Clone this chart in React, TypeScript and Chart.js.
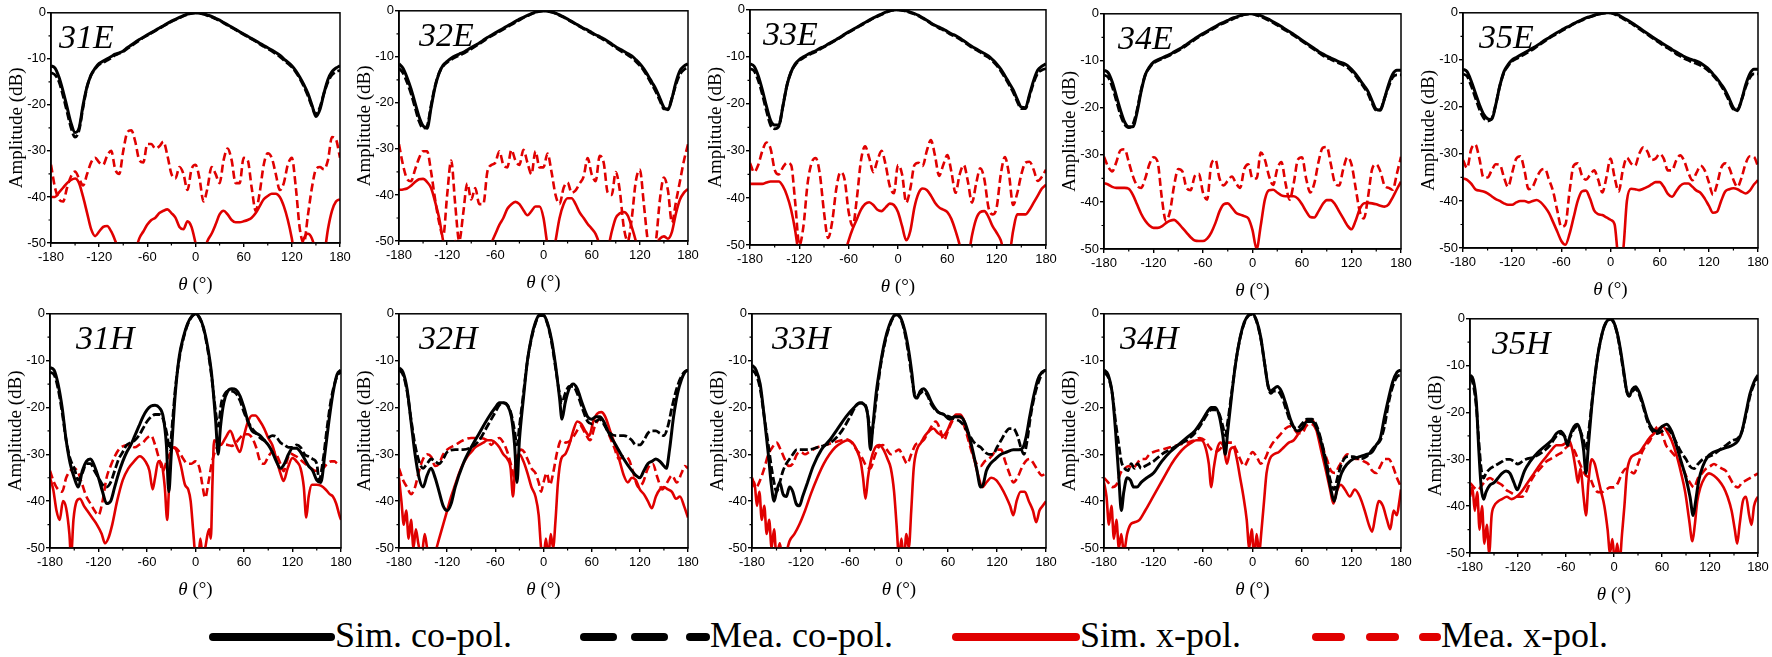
import React, { useEffect, useRef } from "react";
import { Chart, registerables } from "chart.js";

Chart.register(...registerables);

type Pt = [number, number];

// ---------------- data ----------------
const THETA_E: number[] = [
  -180, -175, -170, -165, -160, -155, -150, -145, -140, -135, -130, -125,
  -120, -115, -110, -105, -100, -95, -90, -85, -80, -75, -70, -65,
  -60, -55, -50, -45, -40, -35, -30, -25, -20, -15, -10, -5,
  0, 5, 10, 15, 20, 25, 30, 35, 40, 45, 50, 55,
  60, 65, 70, 75, 80, 85, 90, 95, 100, 105, 110, 115,
  120, 125, 130, 135, 140, 145, 150, 155, 160, 165, 170, 175, 180,
];
const X_TICKS = [-180, -120, -60, 0, 60, 120, 180];
const Y_TICKS = [0, -10, -20, -30, -40, -50];
const X_MINOR = [-150, -90, -30, 30, 90, 150];
const Y_MINOR = [-5, -15, -25, -35, -45];
const LEGEND_LABELS = ["Sim. co-pol.", "Mea. co-pol.", "Sim. x-pol.", "Mea. x-pol."];
const PANEL_NAMES = ["31E", "32E", "33E", "34E", "35E", "31H", "32H", "33H", "34H", "35H"];

// ---- 31E ----
const SIM_CO_31E = [
  -11.5, -12, -14, -17, -20.5, -24, -26, -25, -20, -16, -13.5, -12,
  -11, -10.5, -10, -9.5, -9, -8.7, -8.3, -7.6, -7, -6.4, -5.8, -5.3,
  -4.8, -4.3, -3.8, -3.3, -2.8, -2.3, -1.8, -1.4, -1, -0.6, -0.3, -0.1,
  0, -0.1, -0.2, -0.5, -0.8, -1.2, -1.6, -2.1, -2.6, -3.1, -3.6, -4.1,
  -4.6, -5.1, -5.6, -6.1, -6.6, -7.1, -7.6, -8.1, -8.6, -9.2, -10, -10.7,
  -11.5, -12.6, -14, -15.6, -17.5, -20, -22.5, -21, -17.5, -14.5, -12.8, -12, -11.5,
];
const MEA_CO_31E = [
  -13, -13.5, -15, -18, -21.5, -25, -27, -25.5, -20.5, -16, -13.5, -12.2,
  -11.2, -10.8, -10.3, -9.8, -9.2, -8.8, -8.4, -7.8, -7.2, -6.6, -6, -5.4,
  -4.9, -4.4, -3.9, -3.4, -2.9, -2.4, -1.9, -1.5, -1.1, -0.7, -0.35, -0.1,
  0, -0.1, -0.3, -0.6, -0.9, -1.3, -1.7, -2.2, -2.7, -3.2, -3.7, -4.2,
  -4.7, -5.2, -5.7, -6.2, -6.8, -7.3, -7.8, -8.3, -8.9, -9.5, -10.3, -11,
  -11.8, -12.9, -14.3, -16, -18, -20.3, -22, -20.5, -17.5, -15, -13.5, -12.8, -12.5,
];
const SIM_X_31E = [
  -40, -40, -39, -38, -37, -36.3, -36, -37, -40, -43.5, -47, -48.5,
  -47.5, -46.5, -46.3, -47.5, -49.5, -52, -55, -57, -56, -52, -49, -47.5,
  -46, -45, -44.5, -43.5, -43, -42.7, -43.5, -44.5, -46.5, -47, -45.3, -46.5,
  -50, -54, -52, -49.5, -48, -46, -43.8, -43, -43.8, -45, -45.5, -45.5,
  -45.3, -45, -44.5, -43.5, -42, -40.5, -39.8, -39.3, -39.3, -40, -42, -45,
  -49, -54, -52, -49, -48, -49, -52, -56, -53, -47, -43, -41, -40.5,
];
const MEA_X_31E = [
  -33, -38, -40.5, -41, -38, -35.5, -34.5, -36, -37.5, -35, -32.5, -31.5,
  -32.5, -33, -31, -30, -34, -35, -30, -26, -25.5, -28, -32, -32.5,
  -28.5, -28.5, -29.5, -29, -28, -31, -35, -36, -33.5, -35, -38.5, -34,
  -33, -36, -41, -38, -33.5, -35, -37, -32, -29.5, -32, -37, -37,
  -31.5, -32, -38, -43, -39, -33, -30.5, -31.5, -35, -38.5, -37, -33,
  -31.5, -38, -47, -50, -44, -38, -34, -33.5, -34, -32, -27, -27.5, -31.5,
];

// ---- 32E ----
const SIM_CO_32E = [
  -11.5, -12.5, -14.5, -17, -20, -23, -25, -25.5, -21, -16.5, -13.5, -11.8,
  -11, -10.3, -9.8, -9.4, -9, -8.5, -8, -7.5, -7, -6.4, -5.8, -5.3,
  -4.8, -4.3, -3.8, -3.3, -2.8, -2.3, -1.8, -1.4, -1, -0.6, -0.3, -0.1,
  0, -0.1, -0.2, -0.5, -0.9, -1.3, -1.8, -2.3, -2.8, -3.3, -3.8, -4.2,
  -4.7, -5.2, -5.6, -6.1, -6.6, -7.2, -7.8, -8.3, -8.8, -9.3, -9.8, -10.6,
  -11.5, -12.6, -14, -15.5, -17, -19, -21, -21.5, -19, -15.5, -13, -12, -11.5,
];
const MEA_CO_32E = [
  -12.5, -13.5, -15.5, -18, -21, -24, -25.5, -25, -20.5, -16.3, -13.5, -12,
  -11.2, -10.6, -10.1, -9.7, -9.3, -8.8, -8.3, -7.7, -7.2, -6.6, -6, -5.5,
  -5, -4.5, -4, -3.5, -3, -2.5, -2, -1.5, -1.1, -0.7, -0.35, -0.1,
  0, -0.1, -0.3, -0.6, -1, -1.4, -1.9, -2.4, -2.9, -3.4, -3.9, -4.4,
  -4.9, -5.4, -5.8, -6.3, -6.8, -7.4, -8, -8.6, -9.1, -9.6, -10.2, -11,
  -11.9, -13, -14.4, -16, -17.6, -19.5, -21.3, -21.3, -19, -16, -13.8, -12.8, -12.3,
];
const SIM_X_32E = [
  -38.9, -38.8, -38.6, -38, -37.2, -36.6, -36.5, -37.2, -38.5, -41.5, -45, -50,
  -54, -53, -50, -52, -56, -58, -58, -57, -56, -55, -53, -50.5,
  -48.5, -46.5, -45, -43, -42, -41.5, -42, -43.3, -44.4, -43.5, -42.5, -42.5,
  -45, -51, -55, -50, -45, -42, -40.7, -40.7, -42, -43.8, -45, -46.3,
  -47.3, -48.5, -51, -55, -52, -48, -45, -44, -43.7, -44.5, -47, -50,
  -54, -56, -56, -54, -51, -49.5, -49, -49.5, -48, -44, -41, -39.5, -38.7,
];
const MEA_X_32E = [
  -29, -33.5, -36.5, -37, -34.5, -32, -30.5, -30.5, -35, -41, -46, -49,
  -40, -32.5, -42, -50, -44, -37.5, -41, -38.5, -42, -42, -35, -33.5,
  -33, -30.5, -33.5, -34, -30.2, -32.5, -33.5, -30.2, -33, -35.5, -30.5, -34,
  -34, -31, -35, -40, -42, -38.5, -37.3, -39.5, -39, -37.5, -36, -32,
  -35.5, -37, -31.5, -33, -39.5, -40, -35, -39, -47, -50, -45, -37,
  -34.5, -42, -50, -52, -50, -41, -36.2, -39, -46, -41.5, -37, -32.5, -29,
];

// ---- 33E ----
const SIM_CO_33E = [
  -11.5, -12, -14, -17, -20.5, -23.5, -24.5, -24.5, -20.5, -16, -13.2, -11.5,
  -10.6, -10, -9.5, -9.1, -8.7, -8.2, -7.8, -7.3, -6.8, -6.3, -5.8, -5.2,
  -4.7, -4.2, -3.7, -3.2, -2.7, -2.2, -1.7, -1.3, -0.9, -0.5, -0.2, -0.05,
  0, -0.1, -0.2, -0.5, -0.8, -1.2, -1.7, -2.2, -2.8, -3.3, -3.7, -4.1,
  -4.6, -5.1, -5.5, -6, -6.6, -7.2, -7.8, -8.3, -8.8, -9.3, -9.8, -10.6,
  -11.5, -12.6, -14, -15.5, -17, -19, -20.7, -20.8, -18, -15, -12.8, -12, -11.5,
];
const MEA_CO_33E = [
  -12.5, -13, -15, -18, -21.5, -24.5, -25.3, -24.8, -20.5, -16, -13.2, -11.7,
  -10.8, -10.2, -9.7, -9.3, -8.9, -8.4, -7.9, -7.4, -6.9, -6.4, -5.9, -5.3,
  -4.8, -4.3, -3.8, -3.3, -2.8, -2.3, -1.8, -1.4, -1, -0.6, -0.25, -0.05,
  0, -0.1, -0.3, -0.6, -0.9, -1.3, -1.8, -2.3, -2.9, -3.4, -3.9, -4.3,
  -4.8, -5.3, -5.7, -6.2, -6.8, -7.4, -8, -8.5, -9, -9.6, -10.1, -10.9,
  -11.8, -13, -14.4, -15.9, -17.5, -19.5, -21, -21, -18.3, -15.5, -13.5, -12.8, -12.5,
];
const SIM_X_33E = [
  -37, -37, -37, -37, -36.7, -36.5, -36.5, -36.5, -37.5, -39.5, -42.5, -47,
  -53, -57, -60, -62, -63, -63, -62, -61, -60, -58, -56, -52,
  -49, -46.5, -44.5, -42.5, -41.3, -40.9, -41.5, -42.5, -42.8, -42, -41.2, -41.5,
  -43, -46, -49, -47, -42, -39, -38, -38.3, -39.5, -41, -42, -42.5,
  -43, -44.5, -47, -50, -54, -53, -48, -44.5, -43, -42.8, -44, -46,
  -47.4, -49, -52, -52, -47, -43.5, -43.5, -43.5, -42.5, -41, -39.5, -38, -37.2,
];
const MEA_X_33E = [
  -32.6, -34.5, -33, -30, -28.2, -29.5, -34, -35, -33.5, -32.5, -33, -41,
  -50, -46, -37, -32.5, -31.5, -35, -43, -48.5, -45, -38, -34.5, -36,
  -43, -46, -40, -32, -29, -31.5, -34.5, -32, -30, -33, -37.5, -39,
  -33, -35, -41, -38, -33, -32.5, -33.2, -30, -27.7, -31, -35.3, -33,
  -30.9, -34.5, -38.9, -35, -33, -36.5, -41, -37, -33.7, -36, -42, -43.5,
  -42, -35, -31.3, -35, -41.5, -39, -35, -32.5, -32.3, -34, -36.4, -35.5, -34,
];

// ---- 34E ----
const SIM_CO_34E = [
  -12, -12.5, -14.5, -17.5, -20.5, -23, -24, -24, -21, -16.5, -13, -11.3,
  -10.3, -9.8, -9.4, -9, -8.6, -8.1, -7.6, -7.1, -6.5, -5.9, -5.3, -4.7,
  -4.2, -3.7, -3.2, -2.7, -2.2, -1.8, -1.4, -1, -0.7, -0.4, -0.1, 0,
  0, -0.2, -0.4, -0.8, -1.2, -1.7, -2.2, -2.7, -3.3, -3.8, -4.4, -5,
  -5.6, -6.2, -6.8, -7.4, -8, -8.5, -9, -9.4, -9.8, -10.2, -10.5, -11,
  -11.8, -12.8, -14, -15.2, -16.5, -18.5, -20.3, -20.5, -18, -15, -12.8, -12, -12,
];
const MEA_CO_34E = [
  -13, -13.5, -15.5, -18.5, -21.5, -23.5, -24.2, -23.5, -20.5, -16.2, -13, -11.5,
  -10.5, -10, -9.6, -9.2, -8.8, -8.3, -7.8, -7.3, -6.7, -6.1, -5.5, -4.9,
  -4.4, -3.9, -3.4, -2.9, -2.4, -2, -1.6, -1.2, -0.8, -0.5, -0.2, -0.05,
  0, -0.3, -0.6, -1, -1.4, -1.9, -2.4, -3, -3.5, -4, -4.6, -5.2,
  -5.8, -6.4, -7, -7.6, -8.2, -8.8, -9.3, -9.7, -10.1, -10.5, -10.9, -11.4,
  -12.2, -13.2, -14.4, -15.6, -17, -19, -20.5, -20.3, -18, -15.5, -13.5, -13, -13,
];
const SIM_X_34E = [
  -36, -36.3, -36.8, -37, -37, -37, -37.2, -38.5, -40.5, -42.5, -44, -45,
  -45.5, -45.5, -45.2, -44.5, -44, -43.8, -44.5, -45.5, -46.5, -47.5, -48.2, -48.3,
  -48.3, -47.8, -46.5, -44.5, -42, -40.5, -40.3, -41.2, -42.3, -42.7, -43, -43.5,
  -46, -50, -45, -39.5, -37.5, -37.4, -38, -38.6, -38.8, -38.8, -38.8, -39.3,
  -40.5, -42, -43.2, -43.3, -42, -40.5, -39.6, -39.6, -40.5, -42, -43.5, -45,
  -45.8, -44, -41.5, -40.3, -40.2, -40.3, -40.5, -40.8, -41, -40.5, -39, -37.3, -35.7,
];
const MEA_X_34E = [
  -30.4, -32.5, -33.5, -31.5, -29, -28.8, -31.5, -34.5, -36.5, -37, -35, -32,
  -30.5, -31.5, -39, -44, -42, -36.5, -33, -33.5, -37, -37.5, -34.5, -34,
  -38, -39.5, -32, -31, -35, -36.5, -35.5, -34.6, -36, -37, -33, -32,
  -35, -35, -29.5, -31, -34.5, -36.4, -33, -31.5, -36, -39.5, -36, -31,
  -30.5, -35, -38, -36, -31.5, -28.5, -28.3, -32, -36, -36.5, -33, -30.5,
  -32, -37, -42, -43.5, -39, -33, -32, -33.5, -36.5, -37, -37.4, -34, -30.4,
];

// ---- 35E ----
const SIM_CO_35E = [
  -12, -12.5, -14.5, -17, -19.5, -21.5, -22.5, -22.7, -19.5, -15.5, -12.5, -11,
  -10, -9.5, -9, -8.5, -8, -7.5, -7, -6.4, -5.8, -5.3, -4.7, -4.2,
  -3.7, -3.2, -2.8, -2.3, -1.9, -1.5, -1.1, -0.8, -0.5, -0.3, -0.1, 0,
  0, -0.2, -0.5, -1, -1.5, -2, -2.6, -3.2, -3.8, -4.4, -5, -5.6,
  -6.1, -6.7, -7.2, -7.8, -8.3, -8.8, -9.3, -9.7, -10, -10.3, -10.7, -11.3,
  -12, -13, -14, -15.2, -16.5, -18.3, -20.2, -20.8, -18.5, -15.3, -13, -12, -12,
];
const MEA_CO_35E = [
  -13, -13.5, -15.5, -18, -20.5, -22.3, -23, -22.5, -19.5, -15.5, -12.7, -11.3,
  -10.3, -9.8, -9.3, -8.8, -8.3, -7.8, -7.2, -6.6, -6, -5.4, -4.9, -4.4,
  -3.9, -3.4, -2.9, -2.4, -2, -1.6, -1.2, -0.9, -0.6, -0.3, -0.1, 0,
  0, -0.3, -0.7, -1.2, -1.7, -2.2, -2.8, -3.4, -4, -4.6, -5.2, -5.8,
  -6.4, -7, -7.5, -8.1, -8.7, -9.2, -9.7, -10.1, -10.5, -10.8, -11.2, -11.7,
  -12.4, -13.3, -14.3, -15.5, -17, -18.8, -20.5, -20.5, -18.5, -15.8, -13.8, -13, -13,
];
const SIM_X_35E = [
  -35.2, -35.5, -36.3, -37.5, -37.8, -38, -38.4, -39, -39.6, -40, -40.5, -40.8,
  -40.8, -40.3, -40, -40, -40.3, -40, -39.8, -40.3, -41.3, -42.6, -44.5, -46.5,
  -48.5, -49.3, -47, -43.5, -40, -38, -37.8, -39.5, -42, -42.8, -43, -43.5,
  -44, -45, -52, -51, -40, -37.4, -37.5, -37.7, -37.4, -37, -36.5, -36,
  -36, -37, -38.5, -39.1, -38, -36.8, -36.3, -36.3, -37, -37.8, -38.3, -39.5,
  -41, -42.5, -42.3, -40, -38, -37.5, -37.3, -37.5, -38, -38.4, -37.8, -36.5, -35.6,
];
const MEA_X_35E = [
  -31.3, -33, -29, -28, -31, -35, -35, -33.5, -32.2, -32.3, -35, -37,
  -34, -31, -30.5, -33.5, -37.5, -37, -35, -33.5, -33.2, -35.5, -38, -42,
  -45.5, -45, -38, -32.5, -32, -34.5, -35.5, -34.5, -33.5, -35.5, -38.2, -35,
  -31, -35, -38, -33.5, -30.8, -32, -32.5, -30, -28.6, -29.5, -31.3, -31,
  -30, -31, -33.5, -33.5, -31.5, -30.3, -31.5, -34, -35.6, -34, -32.5, -33.5,
  -36, -38.7, -36.5, -33, -32, -33, -35.5, -37, -35, -32, -30.5, -30.6, -32.7,
];

// ---- 31H ----  [theta, dB]
const SIM_CO_31H: Pt[] = [
  [-180, -11.5], [-175, -12], [-170, -15], [-165, -20], [-160, -27], [-155, -32], [-150, -35], [-145, -37],
  [-140, -33.5], [-135, -31.5], [-130, -31], [-125, -32.5], [-120, -35], [-115, -38], [-110, -40.5], [-105, -40],
  [-100, -37], [-95, -34], [-90, -31.5], [-85, -29.5], [-80, -28], [-75, -26], [-70, -24], [-65, -22],
  [-60, -20.5], [-55, -19.7], [-50, -19.5], [-45, -20], [-40, -22], [-36, -28], [-33, -38], [-30, -30],
  [-25, -17], [-20, -9], [-15, -5], [-10, -2.2], [-5, -0.6], [0, 0], [5, -0.8], [10, -3],
  [15, -7], [20, -13], [25, -23], [28, -30], [31, -24], [35, -19], [40, -16.5], [45, -16],
  [50, -16.2], [55, -17.5], [60, -20], [65, -23], [70, -25], [75, -25.5], [80, -26], [85, -27],
  [90, -28], [95, -29.5], [100, -31.5], [105, -33], [110, -32], [115, -30], [120, -28.7], [125, -28.7],
  [130, -29.5], [135, -31], [140, -32.5], [145, -33.5], [150, -35.5], [155, -36], [160, -30], [165, -23],
  [170, -17], [175, -13], [180, -12],
];
const MEA_CO_31H: Pt[] = [
  [-180, -12.5], [-175, -13], [-170, -16], [-165, -21], [-160, -27], [-155, -31], [-150, -33], [-145, -35.5],
  [-140, -34], [-135, -32], [-130, -32], [-125, -33.5], [-120, -35], [-115, -36.5], [-110, -37], [-105, -36],
  [-100, -33.5], [-95, -31], [-90, -29.5], [-85, -28], [-80, -27.5], [-75, -27], [-70, -26], [-65, -24.5],
  [-60, -23], [-55, -22], [-50, -21.5], [-45, -21.5], [-40, -22.5], [-35, -26], [-32, -29], [-28, -22],
  [-25, -16], [-20, -9.5], [-15, -5.3], [-10, -2.4], [-5, -0.7], [0, -0.1], [5, -0.9], [10, -3.2],
  [15, -7.5], [20, -13.5], [25, -21], [28, -24], [32, -19], [35, -17.5], [40, -16.5], [45, -16.5],
  [50, -17], [55, -18.5], [60, -21], [65, -23], [70, -24.5], [75, -25.5], [80, -26.5], [85, -27],
  [90, -26.5], [95, -26], [100, -26.3], [105, -27.5], [110, -28], [115, -28.5], [120, -28.5], [125, -28],
  [130, -28.5], [135, -30], [140, -30.5], [145, -31], [150, -32], [153, -35.5], [158, -31], [163, -24],
  [168, -18], [172, -15], [176, -13], [180, -12.5],
];
const SIM_X_31H: Pt[] = [
  [-180, -35], [-176, -37.5], [-172, -42], [-168, -44], [-164, -40], [-160, -41.5], [-156, -47], [-154, -52],
  [-151, -44], [-147, -40], [-143, -39.5], [-138, -41], [-134, -42], [-128, -43.5], [-122, -45], [-116, -47],
  [-112, -49], [-108, -48], [-103, -45], [-97, -40], [-90, -35.5], [-83, -33], [-76, -31.5], [-69, -30.4],
  [-62, -31.5], [-57, -33.5], [-53, -37.5], [-50, -35], [-46, -31.5], [-42, -32], [-38, -37], [-35, -44],
  [-33, -38], [-30, -29], [-26, -28.5], [-22, -30], [-18, -32.5], [-13, -36.5], [-9, -37.5], [-6, -40],
  [-3, -46], [0, -52], [3, -53], [6, -48], [9, -52], [12, -50], [15, -47], [17, -46],
  [19, -48], [21, -36], [23, -27], [27, -27.5], [31, -28], [37, -26.5], [43, -25], [49, -27.5],
  [55, -29.5], [60, -26], [65, -23], [70, -21.7], [74, -21.7], [80, -23], [85, -24.5], [90, -26.5],
  [95, -28], [100, -31], [105, -34], [109, -35.7], [114, -33], [120, -30.8], [125, -31.5], [130, -33],
  [134, -37], [137, -43.5], [140, -39], [144, -36.5], [150, -36.5], [155, -36.7], [161, -37.5], [166, -38.5],
  [170, -39], [174, -40.5], [178, -43], [180, -44],
];
const MEA_X_31H: Pt[] = [
  [-180, -33.5], [-175, -36], [-170, -37.5], [-165, -38], [-160, -35], [-155, -33.5], [-150, -33], [-145, -34],
  [-140, -36.5], [-135, -39], [-130, -40.5], [-125, -42], [-120, -43], [-115, -40], [-110, -35], [-105, -32.5],
  [-100, -30.5], [-95, -29], [-90, -28.3], [-85, -28], [-80, -28.2], [-75, -28.5], [-70, -28], [-65, -27.5],
  [-60, -26.5], [-55, -26], [-50, -28], [-45, -31], [-40, -33.5], [-35, -31], [-30, -29.5], [-25, -28.6],
  [-20, -29.5], [-15, -31], [-10, -32], [-5, -32], [0, -31.5], [5, -33], [8, -36], [12, -39.3],
  [16, -36], [20, -32], [25, -29], [30, -28], [35, -27.9], [40, -28], [45, -28.2], [50, -27.5],
  [55, -26.5], [60, -25.7], [65, -25.7], [70, -26.5], [75, -28.5], [80, -31.5], [85, -32], [90, -30.5],
  [95, -29.5], [100, -30], [105, -32], [109, -33.6], [113, -31.5], [117, -29.8], [122, -30.2], [127, -30.7],
  [132, -31.5], [138, -32.3], [143, -33], [148, -33.5], [153, -33.5], [158, -33], [163, -32], [168, -31.5],
  [172, -31.5], [176, -32], [180, -32],
];

// ---- 32H ----
const SIM_CO_32H: Pt[] = [
  [-180, -11.5], [-175, -12.5], [-170, -16], [-165, -23], [-160, -30], [-155, -35], [-150, -37], [-145, -34.5],
  [-140, -33], [-135, -35], [-130, -38], [-125, -41], [-120, -42], [-115, -40.5], [-110, -37], [-100, -32],
  [-90, -28.5], [-80, -25.5], [-70, -22.5], [-60, -20], [-55, -19], [-50, -19], [-45, -19.5], [-40, -22],
  [-36, -28], [-33, -36], [-30, -27], [-25, -18], [-20, -10], [-15, -5], [-10, -1.8], [-5, -0.2],
  [0, -0.3], [5, -2], [10, -5.5], [15, -11], [20, -18], [23, -22.5], [27, -19], [32, -16],
  [37, -15], [42, -16], [48, -19], [55, -22], [60, -22.5], [65, -22], [70, -22], [75, -23],
  [80, -25], [90, -28], [100, -31], [110, -33.5], [115, -34.5], [120, -35], [125, -33.5], [130, -32],
  [135, -31.5], [140, -31], [145, -31.5], [150, -32.5], [153, -33], [157, -29], [162, -22], [167, -17],
  [172, -14], [176, -12.5], [180, -12],
];
const MEA_CO_32H: Pt[] = [
  [-180, -12], [-175, -13], [-170, -16.5], [-165, -22.5], [-160, -28], [-155, -31.5], [-150, -33], [-145, -32],
  [-140, -31], [-135, -31.5], [-130, -32], [-125, -31], [-120, -29.5], [-110, -29], [-100, -29], [-90, -28.5],
  [-80, -27], [-70, -24], [-60, -21], [-55, -19.5], [-50, -19], [-45, -19.5], [-40, -21.5], [-36, -25],
  [-33, -28], [-30, -24], [-25, -17], [-20, -10], [-15, -5.3], [-10, -2], [-5, -0.4], [0, -0.4],
  [5, -2.2], [10, -6], [15, -11.5], [20, -17], [23, -19], [27, -17], [32, -15.5], [37, -15.5],
  [42, -17], [48, -20], [55, -23], [60, -23.5], [65, -23], [70, -22.5], [75, -23.5], [80, -25],
  [90, -26], [100, -26], [110, -27], [115, -28], [120, -28], [125, -27], [130, -25.5], [135, -25],
  [140, -25], [145, -25.5], [150, -26], [155, -24], [160, -20], [165, -16.5], [170, -14], [175, -12.5],
  [180, -12],
];
const SIM_X_32H: Pt[] = [
  [-180, -35], [-177, -40], [-174, -45], [-171, -42], [-168, -48], [-165, -44], [-162, -50], [-159, -46],
  [-156, -49], [-152, -52], [-148, -47], [-145, -50], [-140, -53], [-135, -51], [-130, -48], [-125, -45],
  [-120, -42], [-115, -39], [-110, -36.5], [-105, -34], [-100, -32], [-95, -30.5], [-90, -29.5], [-85, -28.5],
  [-80, -28], [-75, -27.5], [-70, -27], [-65, -27], [-60, -27.5], [-55, -28.5], [-50, -30], [-45, -31],
  [-41, -33], [-38, -39], [-35, -32], [-30, -30], [-25, -31.5], [-20, -34], [-15, -37], [-10, -39],
  [-6, -43], [-3, -50], [0, -52], [3, -48], [6, -52], [9, -47], [12, -50], [15, -44],
  [18, -36], [22, -31], [27, -30], [32, -28], [37, -25], [42, -23], [47, -23.5], [52, -25],
  [57, -26], [62, -23], [67, -21.3], [72, -21], [77, -22], [83, -25], [90, -28.5], [95, -31.5],
  [100, -34.5], [105, -36], [110, -35], [115, -35.5], [120, -37.5], [125, -38.5], [130, -40], [135, -41.5],
  [140, -39], [145, -37.5], [150, -37], [155, -37.5], [160, -38], [165, -39.5], [170, -39], [175, -41],
  [180, -43.5],
];
const MEA_X_32H: Pt[] = [
  [-180, -33], [-175, -35.5], [-170, -37], [-165, -38.5], [-160, -37], [-155, -33.5], [-150, -31], [-145, -30],
  [-140, -30.5], [-135, -32.5], [-130, -32], [-125, -30], [-120, -29], [-110, -28], [-100, -27], [-90, -26.5],
  [-80, -26.5], [-70, -27], [-65, -28], [-60, -27], [-55, -26.5], [-50, -27.5], [-45, -29.5], [-40, -32.5],
  [-36, -35], [-33, -31], [-28, -29], [-24, -29.5], [-20, -31], [-15, -33], [-10, -34], [-6, -36],
  [-3, -38], [0, -36], [4, -34], [8, -36.5], [12, -34], [17, -29.5], [22, -27], [28, -27.5],
  [34, -27], [40, -25.5], [46, -24], [52, -25.5], [58, -27], [64, -24], [70, -22.5], [76, -23.5],
  [82, -26], [88, -28.5], [94, -31], [100, -30.5], [106, -31], [112, -34], [118, -37], [124, -36],
  [130, -33], [136, -32], [142, -35], [148, -37.5], [154, -36], [160, -34.5], [166, -36], [172, -34],
  [176, -32.5], [180, -33],
];

// ---- 33H ----
const SIM_CO_33H: Pt[] = [
  [-180, -11], [-175, -12], [-170, -15], [-165, -22], [-160, -30], [-156, -37], [-153, -40], [-150, -38],
  [-146, -36], [-142, -38.5], [-138, -39], [-134, -37], [-130, -38], [-126, -40.5], [-122, -41], [-118, -39],
  [-112, -36], [-105, -32.5], [-95, -29], [-85, -27], [-75, -24.5], [-65, -22], [-55, -20], [-48, -19],
  [-42, -19.5], [-38, -22], [-35, -29], [-32, -24], [-28, -17], [-22, -10], [-17, -5.5], [-12, -2.5],
  [-7, -0.6], [-3, 0], [2, -0.8], [7, -3.5], [12, -8], [16, -13], [19, -17.5], [22, -18],
  [26, -16.5], [30, -16], [35, -17], [40, -19], [48, -21], [55, -21.5], [62, -22.5], [68, -22],
  [75, -22], [80, -23], [85, -25.5], [90, -29], [95, -33], [100, -37], [103, -36.5], [107, -33.5],
  [112, -32], [118, -31], [125, -30], [132, -29.5], [140, -29], [147, -29], [152, -28.5], [156, -26],
  [160, -22], [165, -17.5], [170, -14], [175, -12.5], [180, -12],
];
const MEA_CO_33H: Pt[] = [
  [-180, -12], [-175, -13], [-170, -16], [-165, -22], [-160, -28], [-156, -33], [-153, -36], [-150, -38],
  [-146, -36], [-142, -33.5], [-138, -32], [-134, -31], [-130, -30], [-125, -29], [-120, -29], [-115, -29],
  [-110, -29], [-100, -28.5], [-90, -28], [-80, -27], [-70, -25], [-60, -22], [-52, -19.5], [-46, -19],
  [-40, -20], [-37, -23], [-34, -26], [-31, -23], [-27, -17], [-22, -10.5], [-17, -6], [-12, -2.8],
  [-7, -0.8], [-3, -0.2], [2, -1], [7, -4], [12, -9], [16, -14], [19, -17], [22, -17.5],
  [26, -17], [30, -16.5], [35, -17.5], [40, -19.5], [48, -21], [55, -21.5], [62, -22], [68, -22.5],
  [75, -23], [80, -24], [85, -25.5], [90, -27], [95, -28], [100, -28.5], [105, -29.5], [110, -30],
  [115, -30], [120, -28.5], [125, -27], [130, -25.5], [135, -24.5], [140, -24.5], [145, -26], [150, -29],
  [153, -30], [157, -27], [161, -22], [166, -17.5], [171, -14.5], [176, -12.5], [180, -12],
];
const SIM_X_33H: Pt[] = [
  [-180, -37], [-177, -36], [-174, -41], [-171, -38], [-168, -44], [-165, -41], [-162, -47], [-159, -44],
  [-156, -50], [-153, -46], [-150, -52], [-146, -49], [-142, -53], [-138, -51], [-134, -48.5], [-128, -47],
  [-122, -45], [-115, -42], [-108, -38.5], [-100, -35], [-92, -32], [-85, -30], [-78, -28.5], [-70, -27.5],
  [-63, -27], [-57, -27.5], [-52, -29], [-47, -31.5], [-44, -35], [-41, -39.5], [-38, -35], [-34, -31],
  [-29, -28.5], [-24, -28], [-19, -29], [-14, -31], [-10, -33], [-6, -38], [-3, -45], [0, -52],
  [3, -48], [6, -53], [9, -47], [12, -50], [15, -42], [18, -33], [22, -29], [27, -27.5],
  [32, -26], [37, -25], [42, -24.5], [48, -25.5], [54, -26], [59, -25], [64, -23], [70, -21.5],
  [75, -21.5], [80, -23], [86, -27], [92, -31], [97, -34.5], [102, -37], [107, -36], [113, -35],
  [119, -35.5], [125, -37], [131, -39], [136, -41], [140, -43], [144, -40], [149, -38], [154, -38],
  [159, -40], [164, -42], [168, -44.5], [172, -42], [176, -41], [180, -40],
];
const MEA_X_33H: Pt[] = [
  [-180, -35], [-175, -37], [-170, -35.5], [-165, -33], [-160, -30], [-155, -28.5], [-150, -27.5], [-145, -29],
  [-140, -31], [-135, -32.5], [-130, -32], [-125, -30], [-120, -29.5], [-115, -30], [-110, -29.5], [-100, -28.5],
  [-90, -28], [-80, -27.5], [-70, -27], [-64, -26.8], [-58, -27.5], [-52, -29], [-46, -30.5], [-40, -32.5],
  [-35, -33], [-30, -30.5], [-25, -28.5], [-20, -28], [-15, -29], [-10, -30], [-5, -29.5], [0, -29],
  [5, -30.5], [10, -32], [15, -30], [20, -28], [25, -27.5], [30, -27], [35, -25.5], [40, -24],
  [45, -23], [50, -24.5], [55, -27], [60, -25], [65, -23], [70, -22], [75, -22], [80, -24],
  [85, -27], [90, -30], [95, -32], [100, -32.5], [105, -31.5], [110, -31], [115, -30], [120, -29],
  [125, -29], [130, -31.5], [135, -34], [140, -36], [145, -35], [150, -33], [155, -31.5], [160, -31],
  [165, -32], [170, -33.5], [175, -34.5], [180, -34],
];

// ---- 34H ----
const SIM_CO_34H: Pt[] = [
  [-180, -12], [-175, -13], [-170, -17], [-166, -25], [-162, -35], [-159, -42], [-156, -38], [-152, -35],
  [-148, -35.5], [-144, -37], [-140, -37], [-135, -36], [-128, -35], [-120, -34], [-110, -31.5], [-100, -29.5],
  [-90, -28], [-80, -26.5], [-70, -25], [-62, -23], [-55, -21], [-50, -20], [-45, -20], [-40, -22],
  [-36, -26], [-33, -30], [-30, -25], [-25, -17], [-20, -10], [-15, -5], [-10, -1.8], [-5, -0.3],
  [0, 0], [5, -1.5], [10, -5], [15, -11], [19, -15.5], [22, -16.5], [26, -16], [30, -15.5],
  [35, -16.5], [40, -19], [47, -23], [54, -25], [60, -24.5], [66, -23], [72, -23], [78, -24.5],
  [84, -28], [90, -33], [95, -37.5], [99, -40], [103, -37], [108, -34], [115, -32], [122, -31],
  [130, -30.5], [138, -30], [145, -29.5], [150, -28], [155, -26.5], [160, -22], [165, -18], [170, -14.5],
  [175, -12.5], [180, -12],
];
const MEA_CO_34H: Pt[] = [
  [-180, -12.5], [-175, -13.5], [-170, -17], [-166, -23], [-162, -28], [-159, -31.5], [-155, -33], [-151, -33.5],
  [-147, -32], [-143, -33], [-139, -32], [-135, -33], [-130, -32.5], [-125, -32], [-120, -31.5], [-110, -30],
  [-100, -29], [-90, -28], [-80, -27], [-70, -25.5], [-62, -23.5], [-55, -21.5], [-50, -20.5], [-45, -20.5],
  [-40, -21.5], [-36, -24], [-33, -26], [-30, -23], [-25, -16.5], [-20, -10], [-15, -5.2], [-10, -2],
  [-5, -0.4], [0, -0.1], [5, -1.7], [10, -5.3], [15, -11], [19, -15.5], [22, -17], [26, -16.5],
  [30, -16.5], [35, -17.5], [40, -20], [47, -23.5], [54, -24.5], [60, -23.5], [66, -22.5], [72, -22.5],
  [78, -24], [84, -27.5], [90, -32], [95, -36], [99, -37.5], [103, -35], [108, -32], [115, -30.5],
  [122, -30.5], [130, -31], [138, -30.5], [145, -29], [150, -28], [155, -27], [160, -24], [165, -19],
  [170, -15.5], [175, -13.5], [180, -13],
];
const SIM_X_34H: Pt[] = [
  [-180, -36], [-177, -39], [-174, -45], [-171, -41], [-168, -48], [-165, -44], [-162, -50], [-159, -47],
  [-156, -51], [-152, -47], [-148, -45], [-143, -44.5], [-137, -44], [-130, -42], [-122, -39.5], [-114, -37],
  [-106, -34.5], [-98, -32], [-90, -30], [-82, -28.5], [-74, -27.5], [-68, -27], [-62, -27], [-57, -28.5],
  [-53, -32], [-50, -37], [-47, -33], [-43, -29], [-39, -27.5], [-35, -28.5], [-31, -32], [-27, -29],
  [-23, -28.5], [-19, -31], [-15, -35], [-11, -39], [-7, -44], [-4, -50], [-1, -46], [2, -52],
  [5, -47], [8, -51], [11, -46], [14, -40], [17, -34], [21, -31], [26, -30], [32, -29.5],
  [38, -28.5], [44, -27.5], [50, -27], [56, -25.5], [62, -24], [67, -22.5], [72, -22.5], [77, -24.5],
  [83, -29], [89, -33.5], [94, -37.5], [98, -40.5], [102, -38], [107, -36.5], [112, -37.5], [118, -39],
  [124, -37.5], [130, -39], [136, -42], [141, -45], [145, -46.5], [149, -43], [153, -40], [158, -41],
  [163, -44], [167, -46], [171, -42], [175, -43], [178, -40], [180, -37.5],
];
const MEA_X_34H: Pt[] = [
  [-180, -35], [-175, -36], [-170, -37], [-165, -36.5], [-160, -34], [-155, -33], [-150, -32.5], [-145, -33],
  [-140, -32], [-135, -31], [-130, -31], [-125, -30], [-120, -29.5], [-110, -29], [-100, -28.5], [-90, -28],
  [-80, -27.5], [-70, -27], [-64, -26.5], [-58, -27], [-52, -28.5], [-46, -29.5], [-40, -29], [-35, -28],
  [-30, -27.5], [-25, -27.5], [-20, -29], [-15, -31], [-10, -32.5], [-5, -31], [0, -29.5], [5, -30.5],
  [10, -32], [15, -31], [20, -29], [25, -27.5], [30, -26.5], [35, -25.5], [40, -24.5], [45, -24],
  [50, -24.5], [55, -25.5], [60, -25.5], [65, -24], [70, -23.5], [75, -24], [80, -26], [85, -28.5],
  [90, -31], [95, -33.5], [100, -34], [105, -32.5], [110, -31], [115, -30], [120, -30.5], [125, -31],
  [130, -31], [135, -31.5], [140, -32], [145, -33.5], [150, -34], [155, -32.5], [160, -31], [165, -31],
  [170, -32.5], [175, -35], [180, -37],
];

// ---- 35H ----
const SIM_CO_35H: Pt[] = [
  [-180, -12], [-176, -13], [-172, -18], [-169, -28], [-166, -36], [-163, -38.5], [-160, -37], [-155, -35.5],
  [-150, -35], [-145, -34], [-140, -33], [-135, -32.5], [-130, -33], [-125, -35], [-121, -36.5], [-117, -35],
  [-112, -32.5], [-105, -30.5], [-95, -28.5], [-85, -27], [-78, -26], [-72, -24.5], [-67, -24], [-62, -25],
  [-58, -27], [-55, -25], [-50, -23], [-46, -22.5], [-42, -24], [-38, -28], [-35, -33], [-32, -27],
  [-28, -19], [-24, -12.5], [-20, -7.5], [-16, -4], [-12, -1.5], [-8, -0.3], [-4, 0], [0, -0.8],
  [4, -3], [8, -6.5], [12, -11], [16, -15.5], [19, -16.5], [23, -15], [27, -14.5], [31, -15.5],
  [36, -18], [42, -21.5], [48, -23.5], [54, -24], [60, -23], [66, -22.5], [72, -24], [78, -27],
  [84, -30.5], [90, -34], [95, -38], [99, -42], [102, -39], [106, -34.5], [111, -31.5], [117, -29.5],
  [124, -28.5], [132, -28], [140, -27.5], [148, -27], [155, -26], [160, -24], [165, -20], [170, -16],
  [175, -13.5], [180, -12],
];
const MEA_CO_35H: Pt[] = [
  [-180, -12.5], [-176, -14], [-172, -19], [-169, -26], [-166, -32], [-163, -34], [-160, -33], [-155, -32],
  [-150, -31.5], [-145, -31], [-140, -30.5], [-135, -30], [-130, -30], [-125, -30.5], [-120, -31], [-115, -30.5],
  [-110, -30], [-100, -29.5], [-90, -28.5], [-80, -27], [-72, -25], [-67, -24.5], [-62, -25], [-58, -26],
  [-54, -25], [-50, -23.5], [-46, -23], [-42, -24], [-38, -26], [-35, -28], [-32, -24.5], [-28, -18.5],
  [-24, -12.5], [-20, -7.5], [-16, -4], [-12, -1.6], [-8, -0.4], [-4, -0.1], [0, -1], [4, -3.2],
  [8, -7], [12, -11.5], [16, -15.5], [19, -16.5], [23, -15.5], [27, -15], [31, -16], [36, -18.5],
  [42, -22], [48, -24], [54, -24.5], [60, -24], [66, -23.5], [72, -24.5], [78, -26.5], [84, -28.5],
  [90, -30], [95, -31.5], [100, -32], [105, -31], [111, -30], [117, -29.5], [124, -29], [132, -28],
  [140, -27], [148, -26], [155, -25.5], [160, -24], [165, -20.5], [170, -16.5], [175, -14], [180, -12.5],
];
const SIM_X_35H: Pt[] = [
  [-180, -38], [-177, -36], [-174, -41], [-171, -37], [-168, -45], [-165, -40], [-162, -48], [-159, -44],
  [-156, -50], [-153, -42], [-150, -40], [-145, -39], [-140, -38.5], [-134, -38], [-128, -38.5], [-122, -38],
  [-116, -37], [-108, -35], [-100, -33], [-92, -31], [-85, -29.5], [-78, -28], [-72, -27], [-66, -27],
  [-60, -26.5], [-56, -26], [-52, -28], [-48, -32], [-45, -35], [-42, -32], [-38, -38], [-35, -42],
  [-32, -35], [-28, -30], [-24, -31], [-20, -34], [-16, -37], [-12, -40], [-8, -45], [-5, -50],
  [-2, -47], [1, -52], [4, -48], [7, -52], [10, -46], [13, -40], [16, -33], [20, -30],
  [26, -29], [32, -28.5], [38, -27], [44, -25.5], [50, -24.5], [56, -23.5], [61, -23], [66, -24],
  [72, -26], [78, -29], [84, -33], [89, -37], [94, -43], [98, -47.5], [101, -44], [104, -39],
  [108, -36], [113, -34], [119, -33], [125, -33.5], [131, -34.5], [137, -36], [142, -38], [147, -41],
  [151, -45], [154, -48], [157, -44], [161, -39], [165, -38], [169, -42], [172, -44], [175, -40],
  [178, -38.5], [180, -38],
];
const MEA_X_35H: Pt[] = [
  [-180, -35], [-175, -36], [-170, -36.5], [-165, -35.5], [-160, -34.5], [-155, -34], [-150, -34.5], [-145, -35],
  [-140, -35.5], [-135, -36.5], [-130, -37], [-125, -37.5], [-120, -38], [-115, -38], [-110, -37], [-105, -35],
  [-100, -33.5], [-95, -32.5], [-90, -31.5], [-85, -30.5], [-80, -30], [-75, -29.5], [-70, -29], [-65, -28.5],
  [-60, -27.5], [-55, -27], [-50, -28], [-45, -30], [-40, -32], [-35, -33.5], [-30, -34], [-25, -36],
  [-20, -37], [-15, -37], [-10, -36.5], [-5, -36], [0, -36], [5, -35], [10, -33], [15, -32],
  [20, -32.5], [25, -33], [30, -31], [35, -28.5], [40, -27], [45, -26], [50, -24], [55, -23],
  [60, -24.5], [65, -27], [70, -28], [75, -29], [80, -30], [85, -31.5], [90, -33.5], [95, -35],
  [100, -36], [105, -34], [110, -33], [115, -32], [120, -31.5], [125, -31], [130, -31.5], [135, -32],
  [140, -32.5], [145, -34], [150, -35.5], [155, -36], [160, -35], [165, -34.5], [170, -34], [175, -33.5],
  [180, -33],
];

// ---------------- layout / style ----------------
const RED = "#e00000";
const SERIF = '"Liberation Serif", "Times New Roman", serif';
const SANS = '"Liberation Sans", Arial, sans-serif';
const PAD_L = 52;
const PAD_T = 8;
const PAD_R = 14;
const PAD_B = 56;

const zipE = (v: number[]): Pt[] => THETA_E.map((t, i) => [t, v[i]] as Pt);

interface PanelSpec {
  name: string;
  L: number; R: number; T: number; B: number;
  labelDx: number;
  series: Pt[][]; // simCo, meaCo, simX, meaX
}

const PANELS: PanelSpec[] = [
  { name: PANEL_NAMES[0], L: 51, R: 340, T: 12, B: 243, labelDx: 8, series: [zipE(SIM_CO_31E), zipE(MEA_CO_31E), zipE(SIM_X_31E), zipE(MEA_X_31E)] },
  { name: PANEL_NAMES[1], L: 399, R: 688, T: 10, B: 241, labelDx: 20, series: [zipE(SIM_CO_32E), zipE(MEA_CO_32E), zipE(SIM_X_32E), zipE(MEA_X_32E)] },
  { name: PANEL_NAMES[2], L: 750, R: 1046, T: 9, B: 245, labelDx: 13, series: [zipE(SIM_CO_33E), zipE(MEA_CO_33E), zipE(SIM_X_33E), zipE(MEA_X_33E)] },
  { name: PANEL_NAMES[3], L: 1104, R: 1401, T: 13, B: 249, labelDx: 14, series: [zipE(SIM_CO_34E), zipE(MEA_CO_34E), zipE(SIM_X_34E), zipE(MEA_X_34E)] },
  { name: PANEL_NAMES[4], L: 1463, R: 1758, T: 12, B: 248, labelDx: 16, series: [zipE(SIM_CO_35E), zipE(MEA_CO_35E), zipE(SIM_X_35E), zipE(MEA_X_35E)] },
  { name: PANEL_NAMES[5], L: 50, R: 341, T: 313, B: 548, labelDx: 26, series: [SIM_CO_31H, MEA_CO_31H, SIM_X_31H, MEA_X_31H] },
  { name: PANEL_NAMES[6], L: 399, R: 688, T: 313, B: 548, labelDx: 20, series: [SIM_CO_32H, MEA_CO_32H, SIM_X_32H, MEA_X_32H] },
  { name: PANEL_NAMES[7], L: 752, R: 1046, T: 313, B: 548, labelDx: 20, series: [SIM_CO_33H, MEA_CO_33H, SIM_X_33H, MEA_X_33H] },
  { name: PANEL_NAMES[8], L: 1104, R: 1401, T: 313, B: 548, labelDx: 16, series: [SIM_CO_34H, MEA_CO_34H, SIM_X_34H, MEA_X_34H] },
  { name: PANEL_NAMES[9], L: 1470, R: 1758, T: 318, B: 553, labelDx: 22, series: [SIM_CO_35H, MEA_CO_35H, SIM_X_35H, MEA_X_35H] },
];

const SERIES_STYLE = [
  { color: "#000", width: 3, dash: [] as number[] },
  { color: "#000", width: 2.8, dash: [8, 3] },
  { color: RED, width: 2.6, dash: [] as number[] },
  { color: RED, width: 2.6, dash: [8, 4] },
];

const decorPlugin = {
  id: "decor",
  afterDraw(chart: any, _args: any, opts: any) {
    const { ctx, chartArea: a, scales } = chart;
    const xs = scales.x;
    const ys = scales.y;
    ctx.save();
    ctx.strokeStyle = "#000";
    ctx.lineWidth = 1.5;
    ctx.strokeRect(a.left, a.top, a.right - a.left, a.bottom - a.top);
    ctx.lineWidth = 1.2;
    ctx.beginPath();
    for (const v of X_MINOR) {
      const px = xs.getPixelForValue(v);
      ctx.moveTo(px, a.bottom);
      ctx.lineTo(px, a.bottom + 2.5);
    }
    for (const v of Y_MINOR) {
      const py = ys.getPixelForValue(v);
      ctx.moveTo(a.left, py);
      ctx.lineTo(a.left - 2.5, py);
    }
    ctx.stroke();

    ctx.fillStyle = "#000";
    // panel label
    ctx.font = `italic 34px ${SERIF}`;
    ctx.textAlign = "left";
    ctx.textBaseline = "alphabetic";
    ctx.fillText(opts.label, a.left + opts.labelDx, a.top + 35);

    // y title
    ctx.save();
    ctx.translate(a.left - 34, (a.top + a.bottom) / 2);
    ctx.rotate(-Math.PI / 2);
    ctx.font = `19px ${SERIF}`;
    ctx.textAlign = "center";
    ctx.textBaseline = "middle";
    ctx.fillText("Amplitude (dB)", 0, 0);
    ctx.restore();

    // x title: italic theta + (°)
    const cx = (a.left + a.right) / 2;
    const cy = a.bottom + 42;
    ctx.textBaseline = "middle";
    ctx.textAlign = "left";
    ctx.font = `italic 19px ${SERIF}`;
    const w1 = ctx.measureText("θ").width;
    ctx.font = `19px ${SERIF}`;
    const w2 = ctx.measureText(" (°)").width;
    const x0 = cx - (w1 + w2) / 2;
    ctx.font = `italic 19px ${SERIF}`;
    ctx.fillText("θ", x0, cy);
    ctx.font = `19px ${SERIF}`;
    ctx.fillText(" (°)", x0 + w1, cy);
    ctx.restore();
  },
};

function Panel({ spec }: { spec: PanelSpec }) {
  const ref = useRef<HTMLCanvasElement | null>(null);
  const w = spec.R - spec.L + PAD_L + PAD_R;
  const h = spec.B - spec.T + PAD_T + PAD_B;

  useEffect(() => {
    if (!ref.current) return;
    const chart = new Chart(ref.current, {
      type: "line",
      data: {
        datasets: spec.series.map((pts, i) => ({
          data: pts.map(([x, y]) => ({ x, y })),
          borderColor: SERIES_STYLE[i].color,
          borderWidth: SERIES_STYLE[i].width,
          borderDash: SERIES_STYLE[i].dash,
          pointRadius: 0,
          fill: false,
          cubicInterpolationMode: "monotone" as const,
        })),
      },
      options: {
        animation: false,
        responsive: false,
        maintainAspectRatio: false,
        devicePixelRatio: 1,
        layout: { padding: { top: PAD_T, right: PAD_R, left: 0, bottom: 0 } },
        plugins: {
          legend: { display: false },
          tooltip: { enabled: false },
          decor: { label: spec.name, labelDx: spec.labelDx },
        } as any,
        scales: {
          x: {
            type: "linear",
            min: X_TICKS[0],
            max: X_TICKS[X_TICKS.length - 1],
            afterFit: (s: any) => { s.height = PAD_B; },
            afterBuildTicks: (s: any) => { s.ticks = X_TICKS.map((v) => ({ value: v })); },
            ticks: { color: "#000", font: { family: SANS, size: 13 }, padding: 3, maxRotation: 0, autoSkip: false },
            grid: { drawOnChartArea: false, drawTicks: true, tickLength: 4, color: "#000", lineWidth: 1.4 },
            border: { display: true, color: "#000", width: 1.5 },
          },
          y: {
            type: "linear",
            min: Y_TICKS[Y_TICKS.length - 1],
            max: Y_TICKS[0],
            afterFit: (s: any) => { s.width = PAD_L; },
            afterBuildTicks: (s: any) => { s.ticks = Y_TICKS.map((v) => ({ value: v })); },
            ticks: { color: "#000", font: { family: SANS, size: 13 }, padding: 1, autoSkip: false },
            grid: { drawOnChartArea: false, drawTicks: true, tickLength: 4, color: "#000", lineWidth: 1.4 },
            border: { display: true, color: "#000", width: 1.5 },
          },
        },
      } as any,
      plugins: [decorPlugin],
    });
    return () => chart.destroy();
  }, [spec]);

  return (
    <canvas
      ref={ref}
      width={w}
      height={h}
      style={{ position: "absolute", left: spec.L - PAD_L, top: spec.T - PAD_T, width: w, height: h }}
    />
  );
}

const LEGEND_GEOM = [
  { color: "#000", segs: [[209, 335]], textX: 335 },
  { color: "#000", segs: [[580, 617], [631, 668], [686, 710]], textX: 710 },
  { color: RED, segs: [[952, 1080]], textX: 1080 },
  { color: RED, segs: [[1312, 1345], [1366, 1399], [1419, 1441]], textX: 1441 },
];

function Legend() {
  return (
    <>
      {LEGEND_GEOM.map((g, i) => (
        <React.Fragment key={i}>
          {g.segs.map(([a, b], j) => (
            <div
              key={j}
              style={{
                position: "absolute",
                left: a,
                top: 633,
                width: b - a,
                height: 8,
                borderRadius: 4,
                background: g.color,
              }}
            />
          ))}
          <div
            style={{
              position: "absolute",
              left: g.textX,
              top: 617,
              fontFamily: SERIF,
              fontSize: 36,
              lineHeight: "36px",
              whiteSpace: "nowrap",
              color: "#000",
            }}
          >
            {LEGEND_LABELS[i]}
          </div>
        </React.Fragment>
      ))}
    </>
  );
}

export default function App() {
  return (
    <div style={{ position: "absolute", left: 0, top: 0, width: 1772, height: 657, background: "#fff", overflow: "hidden" }}>
      {PANELS.map((p) => (
        <Panel key={p.name} spec={p} />
      ))}
      <Legend />
    </div>
  );
}
